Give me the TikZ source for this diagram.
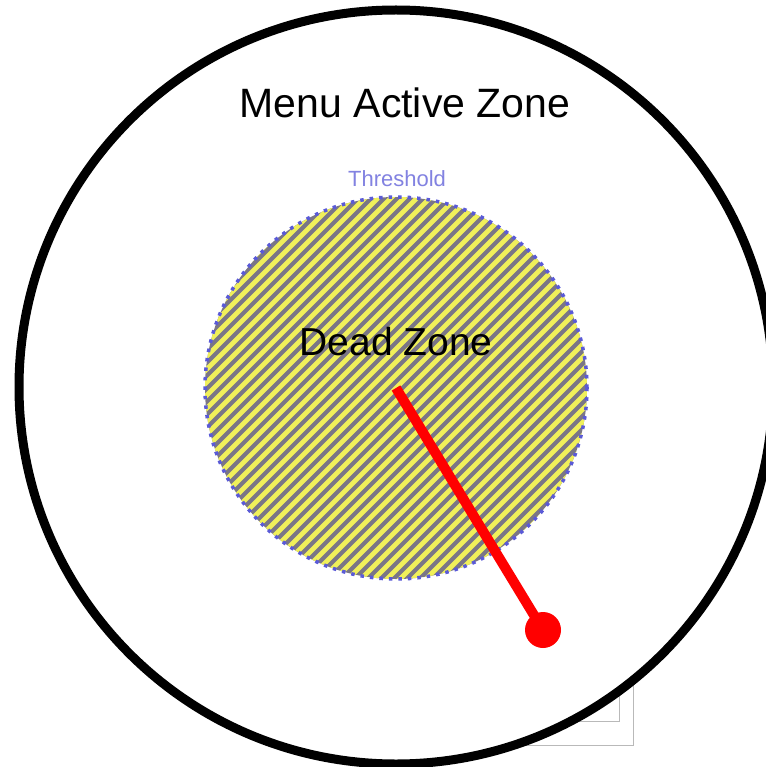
\documentclass[tikz,border=0pt]{standalone}
\usepackage{fontspec}
\setmainfont{Liberation Sans}
\usepackage{xcolor}
\usetikzlibrary{positioning}

\definecolor{stripegray}{RGB}{122,118,134}
\definecolor{stripeyellow}{RGB}{240,240,90}
\definecolor{dotblue}{RGB}{90,90,215}
\definecolor{labelblue}{RGB}{130,130,225}
\definecolor{framegray}{RGB}{185,185,185}

\begin{document}
\begin{tikzpicture}[
  x=1pt, y=-1pt,
  frame/.style={draw=framegray, line width=0.8pt},
  zone/.style={circle, draw=black, fill=white, line width=9pt, minimum size=754pt, inner sep=0pt},
  deadzone/.style={circle, fill=stripegray, draw=dotblue, line width=3.5pt, dash pattern=on 3.5pt off 6pt,
    minimum size=382pt, inner sep=0pt,
    path picture={
      \foreach \k in {-22,...,22}
        \draw[stripeyellow, line width=4.8pt, solid]
          ([shift={(\k*13-200,200)}]path picture bounding box.center) -- ++(400,-400);
    }},
  knob/.style={circle, fill=red, minimum size=36pt, inner sep=0pt},
  handle/.style={red, line width=10pt},
  biglabel/.style={font=\fontsize{41}{48}\selectfont, anchor=base},
  smalllabel/.style={font=\fontsize{22}{26}\selectfont, text=labelblue, anchor=base}
]
\useasboundingbox (0,0) rectangle (765,767);

% frames behind the active zone
\draw[frame] (430,540) rectangle (633,745);
\draw[frame] (445,560) rectangle (619,721);

\node[zone] (active) at (396,387) {};
\node[deadzone] (dead) at (396,388) {};

\node[biglabel] (title) at (405,118) {Menu Active Zone};
\node[smalllabel] (threshold) at (397,187) {Threshold};
\node[biglabel, font=\fontsize{39}{46}\selectfont] (deadlabel) at (396,355) {Dead Zone};

\node[knob] (knob) at (543,630) {};
\draw[handle] (dead.center) -- (knob.center);
\end{tikzpicture}
\end{document}
